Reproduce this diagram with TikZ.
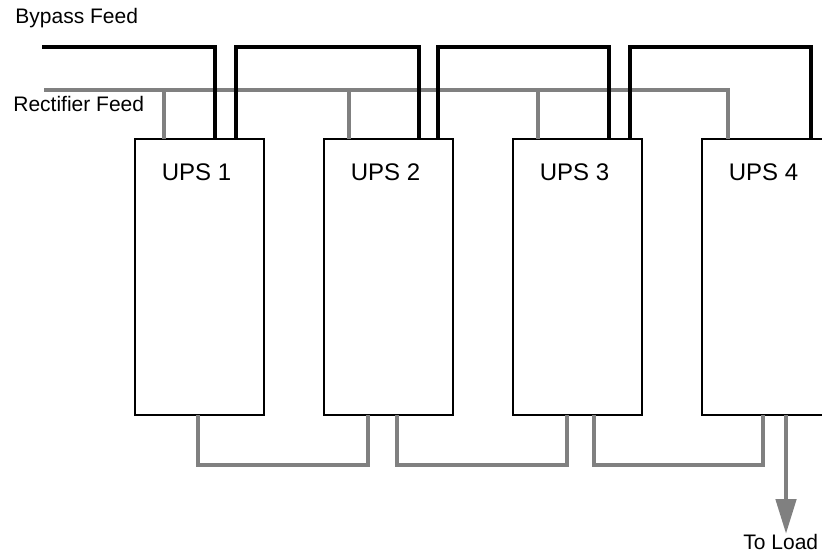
\documentclass[tikz,border=0pt]{standalone}
\usepackage{fontspec}
\setmainfont{Liberation Sans}
\usetikzlibrary{positioning, calc, arrows.meta}
\tikzset{
x=0.5pt, y=-0.5pt, % one unit is one pixel of the drawing, y runs down
node distance=30pt, % gap between two UPS boxes
ups/.style={draw, line width=0.7pt, fill=white, minimum width=64.5pt, minimum height=138pt, inner sep=0pt, outer sep=0pt}, % a UPS cabinet
upstext/.style={font=\fontsize{12}{14}\selectfont, inner sep=0pt}, % the name in a cabinet
feedtext/.style={anchor=base west, font=\fontsize{10.5}{12}\selectfont, inner sep=0pt}, % the feed labels
bypass/.style={line width=2.4pt, black}, % bypass feed, black
rectifier/.style={line width=2.4pt, gray}, % rectifier feed and output, grey
}

\begin{document}
\begin{tikzpicture}
    \useasboundingbox (0,0) rectangle (822,555);
    \clip (0,0) rectangle (822,555);
    % the four cabinets
    \node[ups] (ups1) at (199.5,277) {};
    \node[ups, right=of ups1] (ups2) {};
    \node[ups, right=of ups2] (ups3) {};
    \node[ups, right=of ups3] (ups4) {};
    \foreach \i in {1,...,4}
        \node[upstext] (name\i) at ($(ups\i.north)+(-3,33.5)$) {UPS \i};
    % feeds and load
    \coordinate (bypassin) at (42,47);
    \coordinate (rectin) at (44,90);
    \coordinate (load) at (786,534);
    \node[feedtext] (bypasstext) at (15,24) {Bypass Feed};
    \node[feedtext] (recttext) at (13,112) {Rectifier Feed};
    \node[feedtext] (loadtext) at (743,549) {To Load};
    % rectifier feed
    \draw[rectifier] (rectin) -| ($(ups4.north west)+(26,0)$);
    \foreach \i/\o in {1/29, 2/25, 3/25}
        \draw[rectifier] ($(ups\i.north west)+(\o,0)$) -- ++(0,-49);
    % bypass feed
    \draw[bypass] (bypassin) -| ($(ups1.north west)+(80,0)$);
    \draw[bypass] ($(ups1.north west)+(101,0)$) -- ++(0,-92) -| ($(ups2.north west)+(95,0)$);
    \draw[bypass] ($(ups2.north west)+(114,0)$) -- ++(0,-92) -| ($(ups3.north west)+(96,0)$);
    \draw[bypass] ($(ups3.north west)+(117,0)$) -- ++(0,-92) -| ($(ups4.north west)+(109,0)$);
    % outputs tied together
    \draw[rectifier] ($(ups1.south west)+(63,0)$) -- ++(0,50) -| ($(ups2.south west)+(44,0)$);
    \draw[rectifier] ($(ups2.south west)+(73,0)$) -- ++(0,50) -| ($(ups3.south west)+(54,0)$);
    \draw[rectifier] ($(ups3.south west)+(81,0)$) -- ++(0,50) -| ($(ups4.south west)+(61,0)$);
    \draw[rectifier, -{Triangle[width=10pt, length=17.5pt]}] ($(ups4.south west)+(84,0)$) -- (load);
\end{tikzpicture}
\end{document}
